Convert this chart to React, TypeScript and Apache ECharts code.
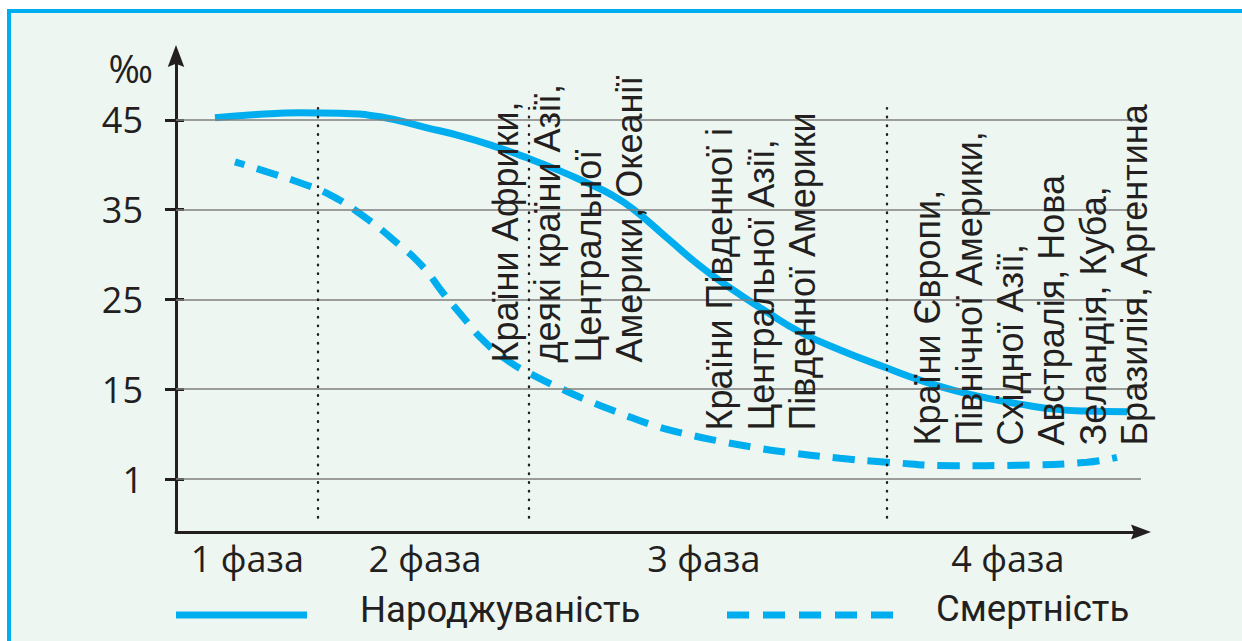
import React, { useEffect, useRef } from 'react';
import * as echarts from 'echarts';

// Y axis: tick positions (axis units) and the labels printed at them
const yTickValues = [5, 15, 25, 35, 45];
const yTickLabels = ['1', '15', '25', '35', '45'];

// X axis: phases
const phaseCenters = [7.4, 25.8, 54.7, 86.2];
const phaseLabels = ['1 фаза', '2 фаза', '3 фаза', '4 фаза'];
const phaseBoundaries = [14.7, 36.6, 73.7];

// Birth rate (Народжуваність)
const birthX = [4.04, 8.7, 12.85, 17.0, 21.14, 26.01, 29.43, 32.85, 36.37, 39.79, 42.59, 44.97, 47.36, 50.88, 54.3, 57.72, 61.24, 64.66, 68.81, 73.68, 77.1, 80.52, 84.04, 87.46, 90.98, 94.4, 98.55];
const birthY = [45.22, 45.61, 45.78, 45.72, 45.33, 44.1, 43.21, 42.1, 40.76, 39.31, 37.97, 36.75, 35.07, 31.84, 28.72, 26.05, 23.6, 21.37, 19.36, 17.35, 16.01, 14.9, 14.01, 13.34, 12.78, 12.56, 12.5];

// Death rate (Смертність)
const deathX = [6.11, 9.43, 12.85, 15.96, 19.38, 22.9, 25.6, 27.67, 29.74, 31.81, 34.61, 37.41, 39.79, 42.59, 46.01, 49.43, 52.95, 56.37, 59.79, 63.32, 68.81, 73.68, 80.52, 87.46, 94.4, 97.51];
const deathY = [40.32, 39.2, 37.98, 36.64, 34.3, 31.29, 28.61, 25.71, 23.04, 20.47, 18.02, 16.35, 15.12, 13.78, 12.33, 10.99, 9.99, 9.21, 8.54, 7.98, 7.31, 6.87, 6.48, 6.54, 6.87, 7.42];

const seriesNames = ['Народжуваність', 'Смертність'];

const groupTexts = [
  ['Країни Африки,', 'деякі країни Азії,', 'Центральної', 'Америки, Океанії'],
  ['Країни Південної і', 'Центральної Азії,', 'Південної Америки'],
  ['Країни Європи,', 'Північної Америки,', 'Східної Азії,', 'Австралія, Нова', 'Зеландія, Куба,', 'Бразилія, Аргентина'],
];

const CYAN = '#00aeef';
const INK = '#231f20';
const NUM_FONT = '"Open Sans", "Noto Sans", sans-serif';
const ARROW = 'path://M0,0 L9,24 L0,20.5 L-9,24 Z';

export default function App() {
  const ref = useRef<HTMLDivElement>(null);

  useEffect(() => {
    if (!ref.current) return;
    const chart = echarts.init(ref.current, null, { renderer: 'svg' });

    const groupAnchors = [
      { x: 485, y: 362.5 },
      { x: 699, y: 430.5 },
      { x: 907, y: 445.5 },
    ];

    const textGraphics: any[] = groupTexts.map((lines, i) => ({
      type: 'text',
      x: groupAnchors[i].x,
      y: groupAnchors[i].y,
      rotation: Math.PI / 2,
      z: 20,
      silent: true,
      style: {
        text: lines.join('\n'),
        fontFamily: '"Liberation Sans", Arial, sans-serif',
        fontSize: 36,
        lineHeight: 41.4,
        fill: INK,
        align: 'left',
        verticalAlign: 'top',
        textAlign: 'left',
        textVerticalAlign: 'top',
      },
    }));

    const legendText = (text: string, x: number, y: number) => ({
      type: 'text',
      x,
      y,
      z: 20,
      silent: true,
      style: {
        text,
        fontFamily: 'Roboto, sans-serif',
        fontSize: 36.5,
        fill: INK,
        align: 'left',
        verticalAlign: 'middle',
        textAlign: 'left',
        textVerticalAlign: 'middle',
      },
    });

    const option: any = {
      animation: false,
      grid: { left: 176, right: 101, top: 56, bottom: 109, outerBoundsMode: 'none', containLabel: false },
      xAxis: {
        type: 'value',
        min: 0,
        max: 100,
        axisLine: {
          show: true,
          onZero: false,
          symbol: ['none', ARROW],
          symbolSize: [15, 22],
          lineStyle: { color: INK, width: 3 },
        },
        axisTick: { show: false },
        splitLine: { show: false },
        axisLabel: {
          show: true,
          customValues: phaseCenters,
          margin: 8,
          color: INK,
          fontFamily: NUM_FONT,
          fontSize: 36,
          formatter: (v: number) => {
            let best = 0;
            phaseCenters.forEach((c, i) => {
              if (Math.abs(c - v) < Math.abs(phaseCenters[best] - v)) best = i;
            });
            return phaseLabels[best];
          },
        },
      },
      yAxis: [
        {
          type: 'value',
          min: -0.9,
          max: 52.1,
          axisLine: {
            show: true,
            onZero: false,
            symbol: ['none', ARROW],
            symbolSize: [17, 22],
            lineStyle: { color: INK, width: 3 },
          },
          axisTick: {
            show: true,
            customValues: yTickValues,
            length: 11,
            lineStyle: { color: INK, width: 3 },
          },
          splitLine: { show: false },
          axisLabel: {
            show: true,
            customValues: yTickValues,
            margin: 33,
            color: INK,
            fontFamily: NUM_FONT,
            fontSize: 36,
            padding: [8, 0, 0, 0],
            formatter: (v: number) => yTickLabels[yTickValues.indexOf(v)] ?? String(v),
          },
        },
        {
          type: 'value',
          min: -0.9,
          max: 52.1,
          position: 'left',
          axisLine: { show: false, onZero: false },
          axisTick: {
            show: true,
            inside: true,
            customValues: yTickValues,
            length: 8,
            lineStyle: { color: INK, width: 3 },
          },
          splitLine: { show: false },
          axisLabel: { show: false },
        },
      ],
      series: [
        {
          type: 'line',
          name: 'grid',
          data: [],
          z: 1,
          silent: true,
          markLine: {
            silent: true,
            symbol: ['none', 'none'],
            label: { show: false },
            lineStyle: { color: '#7f7f7f', width: 1.6, type: 'solid' },
            data: yTickValues.map((v) => ({ yAxis: v })),
          },
        },
        {
          type: 'line',
          name: 'phases',
          data: [],
          z: 1,
          silent: true,
          markLine: {
            silent: true,
            symbol: ['none', 'none'],
            label: { show: false },
            lineStyle: { color: INK, width: 2.4, type: [0.5, 8.2], cap: 'round' },
            data: phaseBoundaries.map((b) => [{ coord: [b, 46.3] }, { coord: [b, 0.4] }]),
          },
        },
        {
          type: 'line',
          name: seriesNames[0],
          smooth: 0.5,
          symbol: 'none',
          z: 3,
          lineStyle: { color: CYAN, width: 7 },
          data: birthX.map((x, i) => [x, birthY[i]]),
        },
        {
          type: 'line',
          name: seriesNames[1],
          smooth: 0.5,
          symbol: 'none',
          z: 3,
          lineStyle: { color: CYAN, width: 7, type: [22, 13], dashOffset: 12 },
          data: deathX.map((x, i) => [x, deathY[i]]),
        },
      ],
      graphic: [
        {
          type: 'text',
          x: 153,
          y: 68,
          z: 20,
          silent: true,
          style: {
            text: '‰',
            fontFamily: NUM_FONT,
            fontSize: 38,
            fill: INK,
            align: 'right',
            verticalAlign: 'middle',
            textAlign: 'right',
            textVerticalAlign: 'middle',
          },
        },
        ...textGraphics,
        {
          type: 'line',
          z: 20,
          silent: true,
          shape: { x1: 176, y1: 615, x2: 307, y2: 615 },
          style: { stroke: CYAN, lineWidth: 7 },
        },
        legendText(seriesNames[0], 360, 609),
        {
          type: 'line',
          z: 20,
          silent: true,
          shape: { x1: 727, y1: 615, x2: 893, y2: 615 },
          style: { stroke: CYAN, lineWidth: 7, lineDash: [22, 14] },
        },
        legendText(seriesNames[1], 936, 608),
      ],
    };

    chart.setOption(option);
    return () => chart.dispose();
  }, []);

  return (
    <div style={{ position: 'fixed', left: 0, top: 0, width: 1242, height: 641, background: '#ffffff', overflow: 'hidden' }}>
      <div
        style={{
          position: 'absolute',
          left: 7,
          top: 9,
          right: 0,
          bottom: 0,
          background: '#edf6f1',
          borderTop: `4px solid ${CYAN}`,
          borderLeft: `4px solid ${CYAN}`,
        }}
      />
      <div ref={ref} style={{ position: 'absolute', left: 0, top: 0, width: 1242, height: 641 }} />
    </div>
  );
}
